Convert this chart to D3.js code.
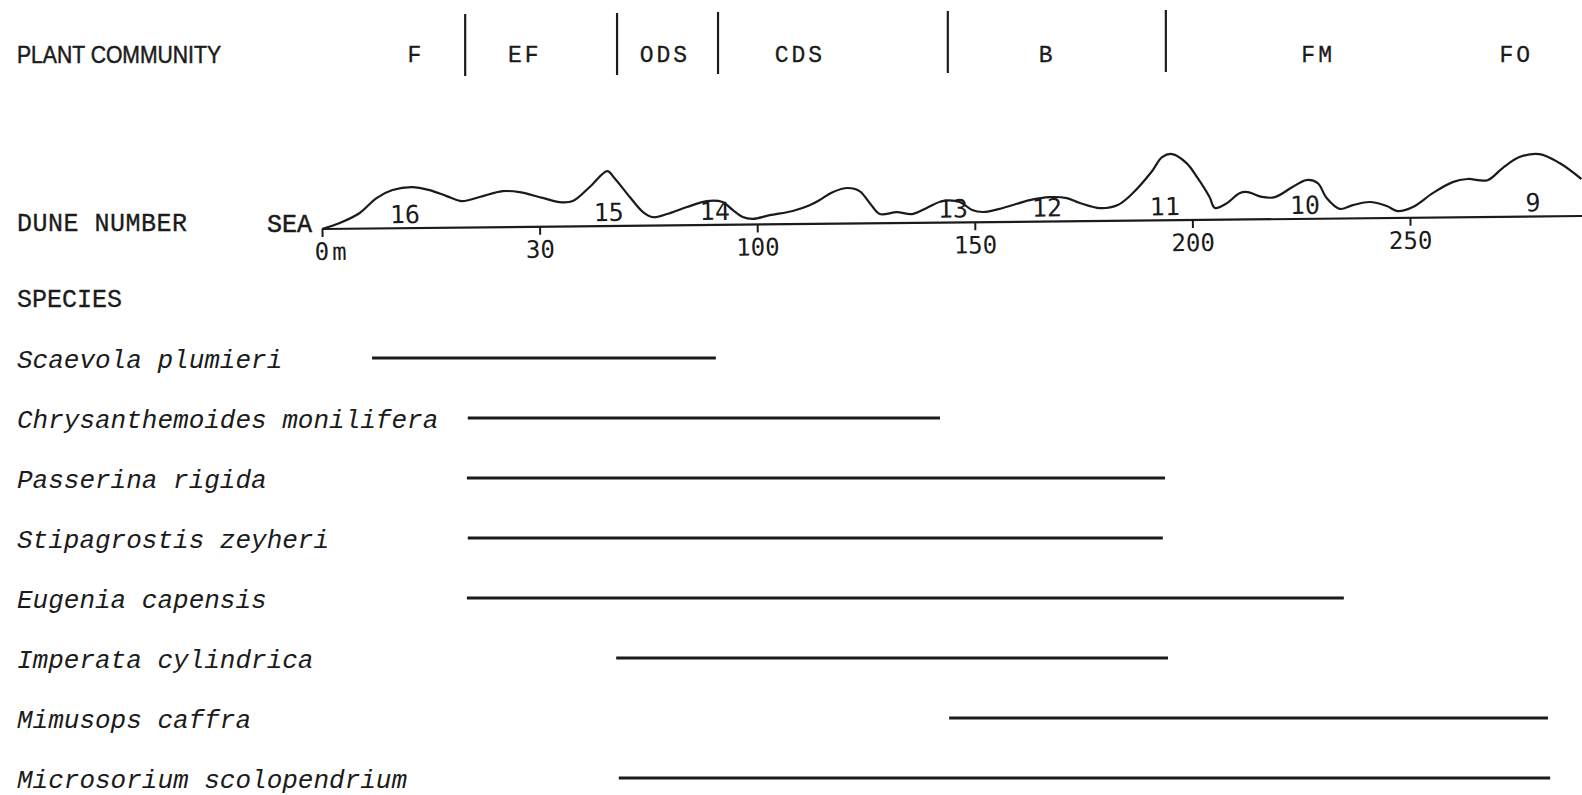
<!DOCTYPE html>
<html>
<head>
<meta charset="utf-8">
<script src="https://cdn.jsdelivr.net/npm/d3@7"></script>
<style>
    body { margin: 0; background: #fff; }
    svg { display: block; }
    .mono { font-family: "Liberation Mono", "DejaVu Sans Mono", monospace; fill: #1b1b1b; }
    .gothic { font-family: "DejaVu Sans Mono", "Liberation Mono", monospace; fill: #1b1b1b; }
</style>
</head>
<body>
<div id="chart"></div>
<script>
// plant communities along the transect (metres)
const communityNames = ['F', 'EF', 'ODS', 'CDS', 'B', 'FM', 'FO'];
const communityLabelAt = [21.6, 46.6, 78.8, 109.8, 166.6, 228.9, 274.4];
const communityBounds = [32.9, 67.8, 91.0, 143.8, 193.9];

// dune profile: distance from sea (m) and relative height
const profileDist = [0, 4.1, 8.7, 12.6, 16.3, 20.7, 24.8, 28.7, 32.2, 36.3, 41.6, 45.5, 50.8, 54.7, 57.7,
    61.6, 65.7, 67.3, 70.8, 73.8, 76.1, 79.3, 83.9, 88.5, 92.1, 94.4, 96.7, 99.0, 102.9, 108.2, 112.1,
    114.4, 117.4, 120.9, 123.6, 125.9, 128.2, 132.1, 135.6, 139.0, 142.7, 146.6, 149.4, 151.9, 156.5,
    162.7, 167.3, 171.2, 174.2, 178.8, 182.9, 186.4, 190.7, 193.2, 195.5, 198.8, 201.3, 204.0, 205.2,
    208.0, 210.9, 212.8, 216.0, 219.0, 223.1, 226.3, 228.9, 230.9, 233.9, 236.9, 240.8, 244.7, 247.2,
    250.7, 255.3, 259.9, 263.3, 267.9, 271.4, 275.3, 279.9, 284.5, 289.5];
const profileHeight = [0, 1.45, 3.9, 7.6, 9.55, 10.25, 9.45, 7.9, 6.6, 7.6, 9.0, 8.7, 7.2, 6.1, 6.35,
    9.8, 13.75, 12.0, 7.2, 3.4, 2.1, 2.85, 4.55, 6.0, 5.7, 3.7, 1.9, 1.4, 2.3, 3.3, 4.7,
    5.95, 7.9, 8.9, 8.1, 5.1, 2.3, 2.75, 2.2, 3.7, 5.4, 5.1, 3.1, 2.55, 3.5,
    5.4, 6.1, 5.8, 4.55, 3.2, 3.95, 6.9, 12.1, 15.8, 16.55, 14.25, 10.5, 5.7, 2.95,
    4.15, 6.6, 6.85, 5.6, 5.5, 8.0, 9.7, 8.9, 5.15, 2.4, 3.3, 4.05, 3.0, 1.7,
    2.7, 6.1, 8.8, 9.55, 9.2, 12.2, 14.9, 15.6, 13.3, 9.25];

// dune numbers and where they sit
const duneNumbers = ['16', '15', '14', '13', '12', '11', '10', '9'];
const duneLabelAt = [19.1, 65.9, 90.3, 145.0, 166.6, 193.7, 225.9, 278.3];

// distance axis (the printed "30" sits at the 50 m mark)
const tickValues = [0, 50, 100, 150, 200, 250];
const tickLabels = ['0m', '30', '100', '150', '200', '250'];

// species ranges along the transect (m)
const species = ['Scaevola plumieri', 'Chrysanthemoides monilifera', 'Passerina rigida', 'Stipagrostis zeyheri',
    'Eugenia capensis', 'Imperata cylindrica', 'Mimusops caffra', 'Microsorium scolopendrium'];
const rangeStart = [11.5, 33.5, 33.3, 33.5, 33.3, 67.6, 144.1, 68.2];
const rangeEnd = [90.5, 142.0, 193.7, 193.2, 234.8, 194.4, 281.7, 282.2];

const width = 1582;
const height = 795;
const ink = '#1b1b1b';

const svg = d3.select('#chart').append('svg')
    .attr('width', width)
    .attr('height', height);

const x = d3.scaleLinear().domain([0, 250]).range([322, 1410]);
const h = d3.scaleLinear().domain([0, 20]).range([0, -80]);
const yRow = d3.scalePoint().domain(species).range([358, 778]);

// --- plant community header
svg.append('text')
    .attr('x', 17).attr('y', 63)
    .attr('textLength', 204).attr('lengthAdjust', 'spacingAndGlyphs')
    .style('font-family', '"Liberation Sans", Arial, sans-serif')
    .style('font-size', '24px')
    .style('fill', ink)
    .style('stroke', ink).style('stroke-width', 0.5)
    .text('PLANT COMMUNITY');

svg.selectAll('line.bound')
    .data(communityBounds)
    .enter().append('line')
    .attr('class', 'bound')
    .attr('x1', d => x(d)).attr('x2', d => x(d))
    .attr('y1', (d, i) => 14 - i).attr('y2', (d, i) => 76 - i)
    .attr('stroke', ink).attr('stroke-width', 2.2);

svg.selectAll('text.community')
    .data(communityNames)
    .enter().append('text')
    .attr('class', 'community mono')
    .attr('x', (d, i) => x(communityLabelAt[i]))
    .attr('y', 62)
    .attr('text-anchor', 'middle')
    .style('font-size', '23px')
    .style('letter-spacing', '3px')
    .style('stroke', ink).style('stroke-width', 0.3)
    .text(d => d);

// --- dune profile
svg.append('text')
    .attr('class', 'mono')
    .attr('x', 17).attr('y', 231)
    .style('font-size', '25px')
    .style('letter-spacing', '0.5px')
    .style('stroke', ink).style('stroke-width', 0.3)
    .text('DUNE NUMBER');

svg.append('text')
    .attr('class', 'mono')
    .attr('x', x(0) - 10).attr('y', 232)
    .attr('text-anchor', 'end')
    .style('font-size', '25px')
    .style('stroke', ink).style('stroke-width', 0.5)
    .text('SEA');

// the scanned profile leans slightly upwards to the right
const profile = svg.append('g')
    .attr('transform', `translate(0,229) rotate(-0.59, ${x(0)}, 0)`);

profile.append('line')
    .attr('x1', x(0)).attr('x2', x(320))
    .attr('y1', 0).attr('y2', 0)
    .attr('stroke', ink).attr('stroke-width', 2.2);

const axis = d3.axisBottom(x)
    .tickValues(tickValues)
    .tickFormat((d, i) => tickLabels[i])
    .tickSize(8)
    .tickPadding(6);

const axisG = profile.append('g').call(axis);
axisG.select('.domain').remove();
axisG.selectAll('.tick line').attr('stroke', ink).attr('stroke-width', 2);
axisG.selectAll('.tick text')
    .attr('class', 'gothic')
    .style('font-size', '24px')
    .style('fill', ink);
axisG.selectAll('.tick text').filter((d, i) => i === 0)
    .attr('text-anchor', 'start')
    .attr('dx', -8)
    .style('letter-spacing', '3px');

const profilePoints = profileDist.map((d, i) => [d, profileHeight[i]]);
const line = d3.line()
    .x(d => x(d[0]))
    .y(d => h(d[1]))
    .curve(d3.curveCatmullRom.alpha(0.5));

profile.append('path')
    .datum(profilePoints)
    .attr('d', line)
    .attr('fill', 'none')
    .attr('stroke', ink)
    .attr('stroke-width', 2.2);

profile.selectAll('text.dune')
    .data(duneNumbers)
    .enter().append('text')
    .attr('class', 'dune gothic')
    .attr('x', (d, i) => x(duneLabelAt[i]))
    .attr('y', -5)
    .attr('text-anchor', 'middle')
    .style('font-size', '25px')
    .text(d => d);

// --- species ranges
svg.append('text')
    .attr('class', 'mono')
    .attr('x', 17).attr('y', 307)
    .style('font-size', '25px')
    .style('stroke', ink).style('stroke-width', 0.3)
    .text('SPECIES');

svg.selectAll('text.species')
    .data(species)
    .enter().append('text')
    .attr('class', 'species mono')
    .attr('x', 17)
    .attr('y', d => yRow(d) + 10)
    .style('font-size', '26px')
    .style('font-style', 'italic')
    .text(d => d);

svg.selectAll('line.range')
    .data(species)
    .enter().append('line')
    .attr('class', 'range')
    .attr('x1', (d, i) => x(rangeStart[i]))
    .attr('x2', (d, i) => x(rangeEnd[i]))
    .attr('y1', d => yRow(d))
    .attr('y2', d => yRow(d))
    .attr('stroke', ink)
    .attr('stroke-width', 3);
</script>
</body>
</html>
